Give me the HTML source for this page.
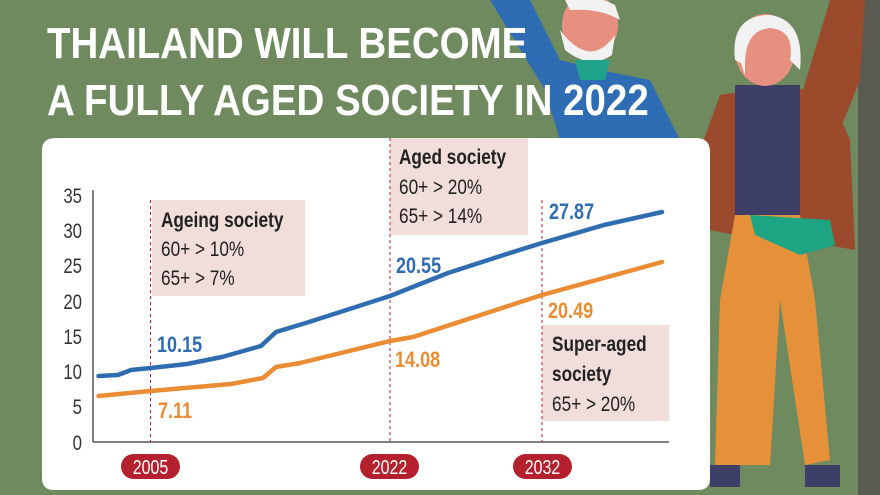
<!DOCTYPE html>
<html><head><style>
body{margin:0;width:880px;height:495px;overflow:hidden;background:#6f8a5f;font-family:"Liberation Sans",sans-serif}
</style></head><body>
<svg width="880" height="495" xmlns="http://www.w3.org/2000/svg" style="position:absolute;left:0;top:0">
<rect x="0" y="0" width="880" height="495" fill="#6f8a5f"/>
<rect x="858" y="0" width="22" height="495" fill="#5a5a52"/>
<path d="M490 0 L530 0 L560 60 L600 70 L650 80 L680 140 L560 140 L545 90 Z" fill="#2e6db3"/>
<ellipse cx="590" cy="25" rx="28" ry="32" fill="#e8907f"/>
<path d="M560 30 Q590 70 615 35 L612 55 Q590 70 565 50Z" fill="#f2f2f2"/>
<path d="M565 0 Q590 -8 615 5 L620 20 Q600 8 570 10Z" fill="#f2f2f2"/>
<path d="M575 60 L610 60 L605 80 L580 80Z" fill="#1fa38a"/>
<path d="M830 0 L865 0 L860 80 L840 130 L800 100 Z" fill="#9c4a2c"/>
<path d="M720 95 L780 85 L830 95 L850 140 L855 250 L800 240 L760 240 L710 230 L700 150Z" fill="#9c4a2c"/>
<rect x="735" y="85" width="65" height="135" fill="#3d3f66"/>
<ellipse cx="765" cy="50" rx="30" ry="36" fill="#e8907f"/>
<path d="M735 60 Q730 15 770 15 Q805 20 800 70 L790 60 Q795 30 770 28 Q745 30 745 65Z" fill="#f2f2f2"/>
<path d="M740 60 Q735 40 745 35 L745 75Z" fill="#f2f2f2"/>
<path d="M735 215 L800 215 L815 300 L830 460 L805 465 L780 300 L770 465 L715 465 L720 300Z" fill="#e7903a"/>
<path d="M750 215 L830 220 L835 245 L800 255 L755 235Z" fill="#1ea383"/>
<rect x="710" y="465" width="30" height="22" fill="#3d3f66"/>
<rect x="805" y="465" width="35" height="22" fill="#3d3f66"/>
<path d="M42 150 Q42 138 56 138 L696 138 Q710 138 710 152 L710 478 Q710 490 698 490 L54 490 Q42 490 42 478 Z" fill="#ffffff"/>
<g fill="#ffffff" font-weight="bold" font-size="44">
<text x="47" y="58" transform="translate(47 0) scale(0.875 1) translate(-47 0)">THAILAND WILL BECOME</text>
<text x="47" y="115" transform="translate(47 0) scale(0.875 1) translate(-47 0)">A FULLY AGED SOCIETY IN 2022</text>
</g>
<rect x="152" y="200" width="153" height="96" fill="#f1dedb"/>
<rect x="390" y="138" width="138" height="97" fill="#f1dedb"/>
<rect x="542" y="325" width="127" height="96" fill="#f1dedb"/>
<g font-size="21" fill="#222">
<g transform="translate(161 0) scale(0.82 1)">
<text x="0" y="227" font-weight="bold">Ageing society</text>
<text x="0" y="256">60+ &gt; 10%</text>
<text x="0" y="285">65+ &gt; 7%</text>
</g>
<g transform="translate(399 0) scale(0.82 1)">
<text x="0" y="164" font-weight="bold">Aged society</text>
<text x="0" y="194">60+ &gt; 20%</text>
<text x="0" y="223">65+ &gt; 14%</text>
</g>
<g transform="translate(552 0) scale(0.82 1)">
<text x="0" y="351" font-weight="bold">Super-aged</text>
<text x="0" y="381" font-weight="bold">society</text>
<text x="0" y="411">65+  &gt; 20%</text>
</g>
</g>
<line x1="93" y1="190" x2="93" y2="442" stroke="#555" stroke-width="1.5"/>
<line x1="93" y1="442" x2="669" y2="442" stroke="#555" stroke-width="1.5"/>
<g font-size="21" fill="#333" text-anchor="end">
<g transform="translate(82 0) scale(0.8 1)">
<text x="0" y="203">35</text><text x="0" y="238">30</text><text x="0" y="273">25</text><text x="0" y="309">20</text><text x="0" y="344">15</text><text x="0" y="379">10</text><text x="0" y="414">5</text><text x="0" y="450">0</text>
</g></g>
<g stroke="#b5202e" stroke-width="1" stroke-dasharray="3,3">
<line x1="150.5" y1="200" x2="150.5" y2="442"/>
<line x1="390" y1="138" x2="390" y2="442"/>
<line x1="542" y1="200" x2="542" y2="442"/>
</g>
<polyline fill="none" stroke="#2f6db0" stroke-width="4.5" stroke-linecap="round" stroke-linejoin="round" points="98.5,376 118,375 131,370 150.6,368 187,364 222,357 261,346 276,332 309,322 390,296 448,273 513,252 542,243 604,225 662,212"/>
<polyline fill="none" stroke="#ea8c34" stroke-width="4.5" stroke-linecap="round" stroke-linejoin="round" points="98.5,396 150.6,391 231,384 263,378 276,367 300,363 390,341 413,337 542,295 662,262"/>
<g font-size="22" font-weight="bold">
<g fill="#2f6db0"><text x="157" y="352" transform="translate(157 0) scale(0.82 1) translate(-157 0)">10.15</text>
<text x="396" y="273" transform="translate(396 0) scale(0.82 1) translate(-396 0)">20.55</text>
<text x="549" y="219" transform="translate(549 0) scale(0.82 1) translate(-549 0)">27.87</text></g>
<g fill="#ea8c34"><text x="158" y="418" transform="translate(158 0) scale(0.82 1) translate(-158 0)">7.11</text>
<text x="395" y="367" transform="translate(395 0) scale(0.82 1) translate(-395 0)">14.08</text>
<text x="548" y="318" transform="translate(548 0) scale(0.82 1) translate(-548 0)">20.49</text></g>
</g>
<g fill="#b5202e">
<rect x="121" y="454" width="59" height="25" rx="12.5"/>
<rect x="360" y="454" width="59" height="25" rx="12.5"/>
<rect x="513" y="454" width="59" height="25" rx="12.5"/>
</g>
<g fill="#fff" font-size="20" text-anchor="middle">
<text x="150.5" y="474" transform="translate(150.5 0) scale(0.8 1) translate(-150.5 0)">2005</text>
<text x="389.5" y="474" transform="translate(389.5 0) scale(0.8 1) translate(-389.5 0)">2022</text>
<text x="542.5" y="474" transform="translate(542.5 0) scale(0.8 1) translate(-542.5 0)">2032</text>
</g>
</svg>
</body></html>
